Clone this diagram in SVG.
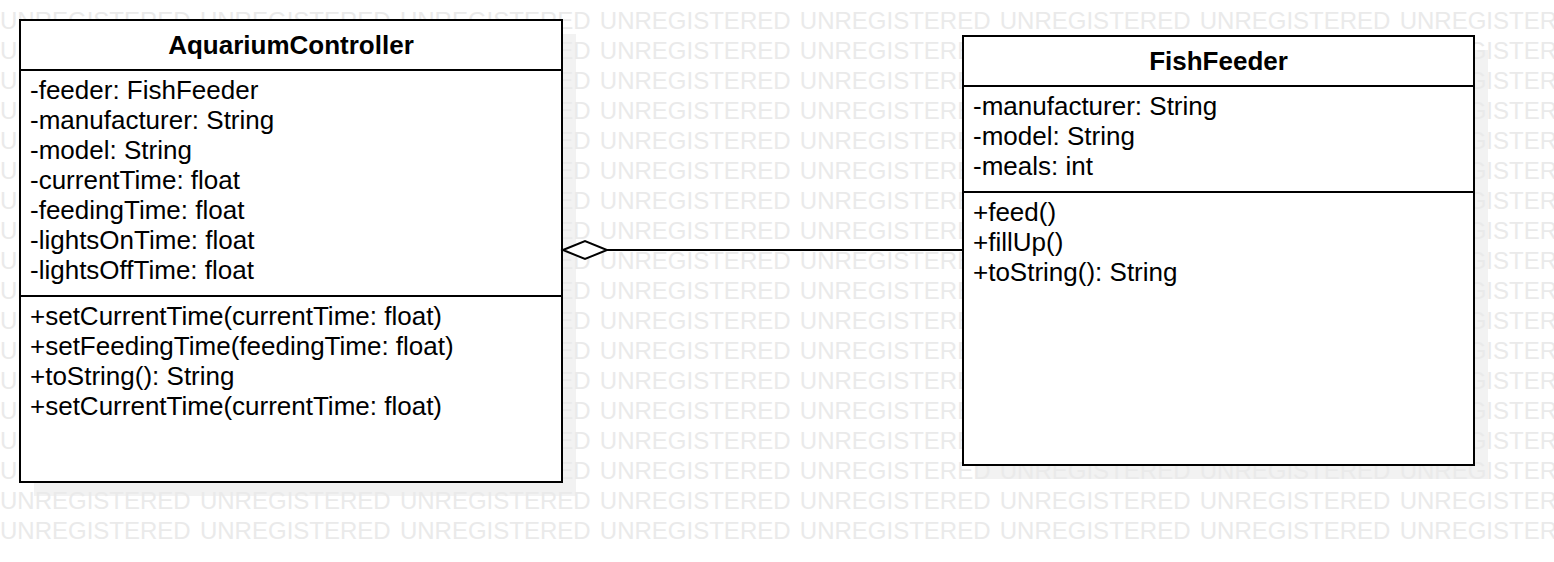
<svg xmlns="http://www.w3.org/2000/svg" width="1554" height="562" viewBox="0 0 1554 562">
<style>
text{font-family:"Liberation Sans",Arial,sans-serif;fill:#000}
.wm{font-size:24px;fill:#eaeaea;word-spacing:2.6px}
.t{font-size:26px;font-weight:bold;text-anchor:middle}
.m{font-size:26px}
.box{fill:#fff;stroke:#000;stroke-width:2}
.sep{stroke:#000;stroke-width:2}
.sh{fill:#f2f2f2}
.ln{fill:none;stroke:#000;stroke-width:2}
.dia{fill:#fff;stroke:#000;stroke-width:2}
</style>
<rect width="1554" height="562" fill="#fff"/>
<g id="shadows">
<rect class="sh" x="34" y="34" width="542" height="462"/>
<rect class="sh" x="977" y="50" width="511" height="429"/>
</g>
<g id="watermark">
<text class="wm" x="0" y="29">UNREGISTERED UNREGISTERED UNREGISTERED UNREGISTERED UNREGISTERED UNREGISTERED UNREGISTERED UNREGISTERED</text>
<text class="wm" x="0" y="59">UNREGISTERED UNREGISTERED UNREGISTERED UNREGISTERED UNREGISTERED UNREGISTERED UNREGISTERED UNREGISTERED</text>
<text class="wm" x="0" y="89">UNREGISTERED UNREGISTERED UNREGISTERED UNREGISTERED UNREGISTERED UNREGISTERED UNREGISTERED UNREGISTERED</text>
<text class="wm" x="0" y="119">UNREGISTERED UNREGISTERED UNREGISTERED UNREGISTERED UNREGISTERED UNREGISTERED UNREGISTERED UNREGISTERED</text>
<text class="wm" x="0" y="149">UNREGISTERED UNREGISTERED UNREGISTERED UNREGISTERED UNREGISTERED UNREGISTERED UNREGISTERED UNREGISTERED</text>
<text class="wm" x="0" y="179">UNREGISTERED UNREGISTERED UNREGISTERED UNREGISTERED UNREGISTERED UNREGISTERED UNREGISTERED UNREGISTERED</text>
<text class="wm" x="0" y="209">UNREGISTERED UNREGISTERED UNREGISTERED UNREGISTERED UNREGISTERED UNREGISTERED UNREGISTERED UNREGISTERED</text>
<text class="wm" x="0" y="239">UNREGISTERED UNREGISTERED UNREGISTERED UNREGISTERED UNREGISTERED UNREGISTERED UNREGISTERED UNREGISTERED</text>
<text class="wm" x="0" y="269">UNREGISTERED UNREGISTERED UNREGISTERED UNREGISTERED UNREGISTERED UNREGISTERED UNREGISTERED UNREGISTERED</text>
<text class="wm" x="0" y="299">UNREGISTERED UNREGISTERED UNREGISTERED UNREGISTERED UNREGISTERED UNREGISTERED UNREGISTERED UNREGISTERED</text>
<text class="wm" x="0" y="329">UNREGISTERED UNREGISTERED UNREGISTERED UNREGISTERED UNREGISTERED UNREGISTERED UNREGISTERED UNREGISTERED</text>
<text class="wm" x="0" y="359">UNREGISTERED UNREGISTERED UNREGISTERED UNREGISTERED UNREGISTERED UNREGISTERED UNREGISTERED UNREGISTERED</text>
<text class="wm" x="0" y="389">UNREGISTERED UNREGISTERED UNREGISTERED UNREGISTERED UNREGISTERED UNREGISTERED UNREGISTERED UNREGISTERED</text>
<text class="wm" x="0" y="419">UNREGISTERED UNREGISTERED UNREGISTERED UNREGISTERED UNREGISTERED UNREGISTERED UNREGISTERED UNREGISTERED</text>
<text class="wm" x="0" y="449">UNREGISTERED UNREGISTERED UNREGISTERED UNREGISTERED UNREGISTERED UNREGISTERED UNREGISTERED UNREGISTERED</text>
<text class="wm" x="0" y="479">UNREGISTERED UNREGISTERED UNREGISTERED UNREGISTERED UNREGISTERED UNREGISTERED UNREGISTERED UNREGISTERED</text>
<text class="wm" x="0" y="509">UNREGISTERED UNREGISTERED UNREGISTERED UNREGISTERED UNREGISTERED UNREGISTERED UNREGISTERED UNREGISTERED</text>
<text class="wm" x="0" y="539">UNREGISTERED UNREGISTERED UNREGISTERED UNREGISTERED UNREGISTERED UNREGISTERED UNREGISTERED UNREGISTERED</text>
</g>
<g id="AquariumController">
<rect class="box" x="20" y="20" width="542" height="462"/>
<line class="sep" x1="20" y1="70" x2="562" y2="70"/>
<line class="sep" x1="20" y1="296" x2="562" y2="296"/>
<text class="t" x="291" y="53.5">AquariumController</text>
<text class="m" x="30" y="99">-feeder: FishFeeder</text>
<text class="m" x="30" y="129">-manufacturer: String</text>
<text class="m" x="30" y="159">-model: String</text>
<text class="m" x="30" y="189">-currentTime: float</text>
<text class="m" x="30" y="219">-feedingTime: float</text>
<text class="m" x="30" y="249">-lightsOnTime: float</text>
<text class="m" x="30" y="279">-lightsOffTime: float</text>
<text class="m" x="30" y="325">+setCurrentTime(currentTime: float)</text>
<text class="m" x="30" y="355">+setFeedingTime(feedingTime: float)</text>
<text class="m" x="30" y="385">+toString(): String</text>
<text class="m" x="30" y="415">+setCurrentTime(currentTime: float)</text>
</g>
<g id="FishFeeder">
<rect class="box" x="963" y="36" width="511" height="429"/>
<line class="sep" x1="963" y1="86" x2="1474" y2="86"/>
<line class="sep" x1="963" y1="192" x2="1474" y2="192"/>
<text class="t" x="1218.5" y="69.5">FishFeeder</text>
<text class="m" x="973" y="115">-manufacturer: String</text>
<text class="m" x="973" y="145">-model: String</text>
<text class="m" x="973" y="175">-meals: int</text>
<text class="m" x="973" y="221">+feed()</text>
<text class="m" x="973" y="251">+fillUp()</text>
<text class="m" x="973" y="281">+toString(): String</text>
</g>
<g id="connectors">
<line class="ln" x1="607" y1="250" x2="963" y2="250"/>
<polygon class="dia" points="563,250 585,241 607,250 585,259"/>
</g>
</svg>
